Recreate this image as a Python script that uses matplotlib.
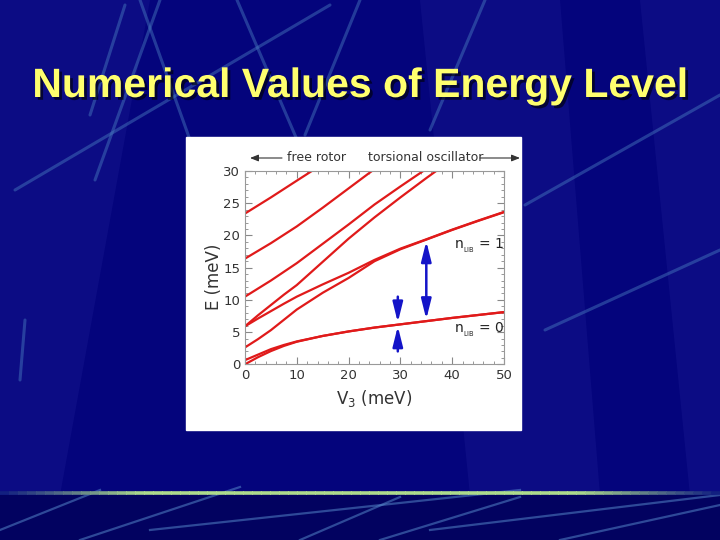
import matplotlib
matplotlib.use("Agg")
import matplotlib.pyplot as plt
import matplotlib.patheffects as pe
from matplotlib.patches import Rectangle, Polygon, FancyArrowPatch
from matplotlib.ticker import MultipleLocator

# energy levels (V3 in meV, E in meV)
x_full = [0, 2.5, 5, 7.5, 10, 15, 20, 25, 30, 35, 40, 45, 50]
e_ground_a = [0.0, 1.1, 2.05, 2.85, 3.5, 4.4, 5.1, 5.7, 6.2, 6.7, 7.2, 7.65, 8.1]
e_ground_e = [0.65, 1.5, 2.35, 3.0, 3.55, 4.4, 5.1, 5.7, 6.2, 6.7, 7.2, 7.65, 8.1]
e_lib1_e = [2.62, 3.9, 5.3, 6.9, 8.5, 11.1, 13.4, 16.0, 17.85, 19.35, 20.85, 22.25, 23.6]
e_lib1_a = [5.9, 7.1, 8.25, 9.4, 10.5, 12.4, 14.2, 16.2, 17.95, 19.4, 20.9, 22.3, 23.65]

x_steep = [0, 2.5, 5, 7.5, 10, 15, 20, 25, 30, 35, 36.9]
e_steep = [5.9, 7.6, 9.2, 10.8, 12.3, 15.9, 19.5, 22.8, 25.9, 28.9, 30]

x_m4 = [0, 5, 10, 15, 20, 25, 30, 34.4]
e_m4 = [10.5, 13.0, 15.7, 18.7, 21.7, 24.8, 27.6, 30]

x_m5 = [0, 5, 10, 15, 20, 24.5]
e_m5 = [16.4, 18.8, 21.4, 24.3, 27.3, 30]

x_m6 = [0, 5, 10, 12.9]
e_m6 = [23.4, 25.9, 28.5, 30]

# arrows: (x, y_from, y_to)
big_arrow = (35, 7.0, 19.1)
small_down = (29.5, 10.5, 6.5)
small_up = (29.5, 2.0, 5.9)

W, H = 720, 540
fig = plt.figure(figsize=(7.2, 5.4), dpi=100, facecolor="#04047c")

# slide background
bg = fig.add_axes([0, 0, 1, 1], zorder=-10)
bg.set_xlim(0, W)
bg.set_ylim(H, 0)
bg.axis("off")
bg.add_patch(Rectangle((0, 0), W, H, color="#04047c"))
shades = [
    [(0, 0), (150, 0), (60, 495), (0, 495)],
    [(420, 0), (560, 0), (600, 495), (470, 495)],
    [(640, 0), (720, 0), (720, 495), (690, 495)],
]
for s in shades:
    bg.add_patch(Polygon(s, closed=True, color="#12128a", alpha=0.6, lw=0))
bg.add_patch(Rectangle((0, 495), W, 45, color="#020260"))

streaks = [
    ((330, 5), (15, 190)),
    ((160, 0), (95, 180)),
    ((125, 5), (90, 115)),
    ((140, 0), (190, 140)),
    ((237, 0), (310, 170)),
    ((360, 0), (305, 135)),
    ((485, 0), (430, 130)),
    ((720, 95), (525, 205)),
    ((720, 250), (545, 330)),
    ((25, 320), (20, 380)),
]
for (x0, y0), (x1, y1) in streaks:
    bg.plot([x0, x1], [y0, y1], color="#4a7ec0", lw=2.2, alpha=0.45,
            solid_capstyle="round")

low_streaks = [
    ((0, 530), (100, 490)),
    ((80, 540), (240, 487)),
    ((150, 530), (520, 490)),
    ((300, 540), (400, 497)),
    ((380, 540), (520, 497)),
    ((430, 530), (720, 495)),
    ((560, 540), (720, 505)),
]
for (x0, y0), (x1, y1) in low_streaks:
    bg.plot([x0, x1], [y0, y1], color="#5a90d0", lw=1.6, alpha=0.5)

# green separator line, fading into the blue at the ends
n_seg = 80
c_end = (0.05, 0.1, 0.5)
c_mid = (0.68, 0.86, 0.55)
for i in range(n_seg):
    t = (i + 0.5) / n_seg
    a = min(1.0, 5 * min(t, 1 - t))
    col = tuple(c_end[k] + (c_mid[k] - c_end[k]) * a for k in range(3))
    bg.plot([W * i / n_seg, W * (i + 1) / n_seg + 0.5], [493, 493],
            color=col, lw=2.6, solid_capstyle="butt")

fig.text(0.5, 1 - 86 / H, "Numerical Values of Energy Level",
         color="#ffff6e", fontsize=29.5, fontweight="bold",
         family="Liberation Sans", ha="center", va="center",
         path_effects=[pe.withSimplePatchShadow(offset=(2, -2),
                                                shadow_rgbFace="black",
                                                alpha=0.6)])

# white picture box
bg.add_patch(Rectangle((186, 137), 335, 293, color="white", zorder=2))

# plot area
ax = fig.add_axes([245 / W, 1 - 364.3 / H, 259 / W, 193.3 / H], zorder=5)
ax.set_facecolor("white")

red = "#e01a1a"
lw = 1.6
ax.plot(x_full, e_ground_a, color=red, lw=lw)
ax.plot(x_full, e_ground_e, color=red, lw=lw)
ax.plot(x_full, e_lib1_e, color=red, lw=lw)
ax.plot(x_full, e_lib1_a, color=red, lw=lw)
ax.plot(x_steep, e_steep, color=red, lw=lw)
ax.plot(x_m4, e_m4, color=red, lw=lw)
ax.plot(x_m5, e_m5, color=red, lw=lw)
ax.plot(x_m6, e_m6, color=red, lw=lw)

blue = "#1414c8"
for xa, y0, y1, style in [
    (big_arrow[0], big_arrow[1], big_arrow[2], "<|-|>"),
    (small_down[0], small_down[1], small_down[2], "-|>"),
    (small_up[0], small_up[1], small_up[2], "-|>"),
]:
    ax.add_patch(FancyArrowPatch((xa, y0), (xa, y1),
                                 arrowstyle=style + ",head_length=1.0,head_width=0.25",
                                 mutation_scale=12, color=blue, lw=1.8,
                                 shrinkA=0, shrinkB=0, zorder=6))

ax.text(40.3, 17.9, r"n$_{_{\rm LIB}}$ = 1", fontsize=10, color="#222222")
ax.text(40.3, 4.9, r"n$_{_{\rm LIB}}$ = 0", fontsize=10, color="#222222")

ax.set_xlim(0, 50)
ax.set_ylim(0, 30)
ax.xaxis.set_major_locator(MultipleLocator(10))
ax.xaxis.set_minor_locator(MultipleLocator(2))
ax.yaxis.set_major_locator(MultipleLocator(5))
ax.yaxis.set_minor_locator(MultipleLocator(1))
ax.tick_params(which="both", direction="in", top=True, right=True,
               colors="#888888", labelcolor="#333333", labelsize=9.5)
ax.tick_params(which="major", length=5)
ax.tick_params(which="minor", length=2.5)
for sp in ax.spines.values():
    sp.set_color("#999999")
    sp.set_linewidth(0.8)

ax.set_xlabel(r"V$_3$ (meV)", fontsize=12, color="#333333", labelpad=4)
ax.text(-0.12, 0.28, "E (meV)", transform=ax.transAxes, rotation=90,
        fontsize=12, color="#333333", ha="center", va="bottom")

# free rotor / torsional oscillator header
ax.annotate("", xy=(250, 158), xytext=(282, 158), xycoords=bg.transData,
            textcoords=bg.transData,
            arrowprops=dict(arrowstyle="-|>,head_length=0.5,head_width=0.2",
                            color="#333333", lw=0.8, shrinkA=0, shrinkB=0))
ax.annotate("", xy=(520, 158), xytext=(480, 158), xycoords=bg.transData,
            textcoords=bg.transData,
            arrowprops=dict(arrowstyle="-|>,head_length=0.5,head_width=0.2",
                            color="#333333", lw=0.8, shrinkA=0, shrinkB=0))
fig.text(287 / W, 1 - 158 / H, "free rotor", fontsize=9, color="#333333",
         ha="left", va="center", zorder=6)
fig.text(368 / W, 1 - 158 / H, "torsional oscillator", fontsize=9,
         color="#333333", ha="left", va="center", zorder=6)

fig.savefig("out.png", dpi=100, facecolor=fig.get_facecolor())
